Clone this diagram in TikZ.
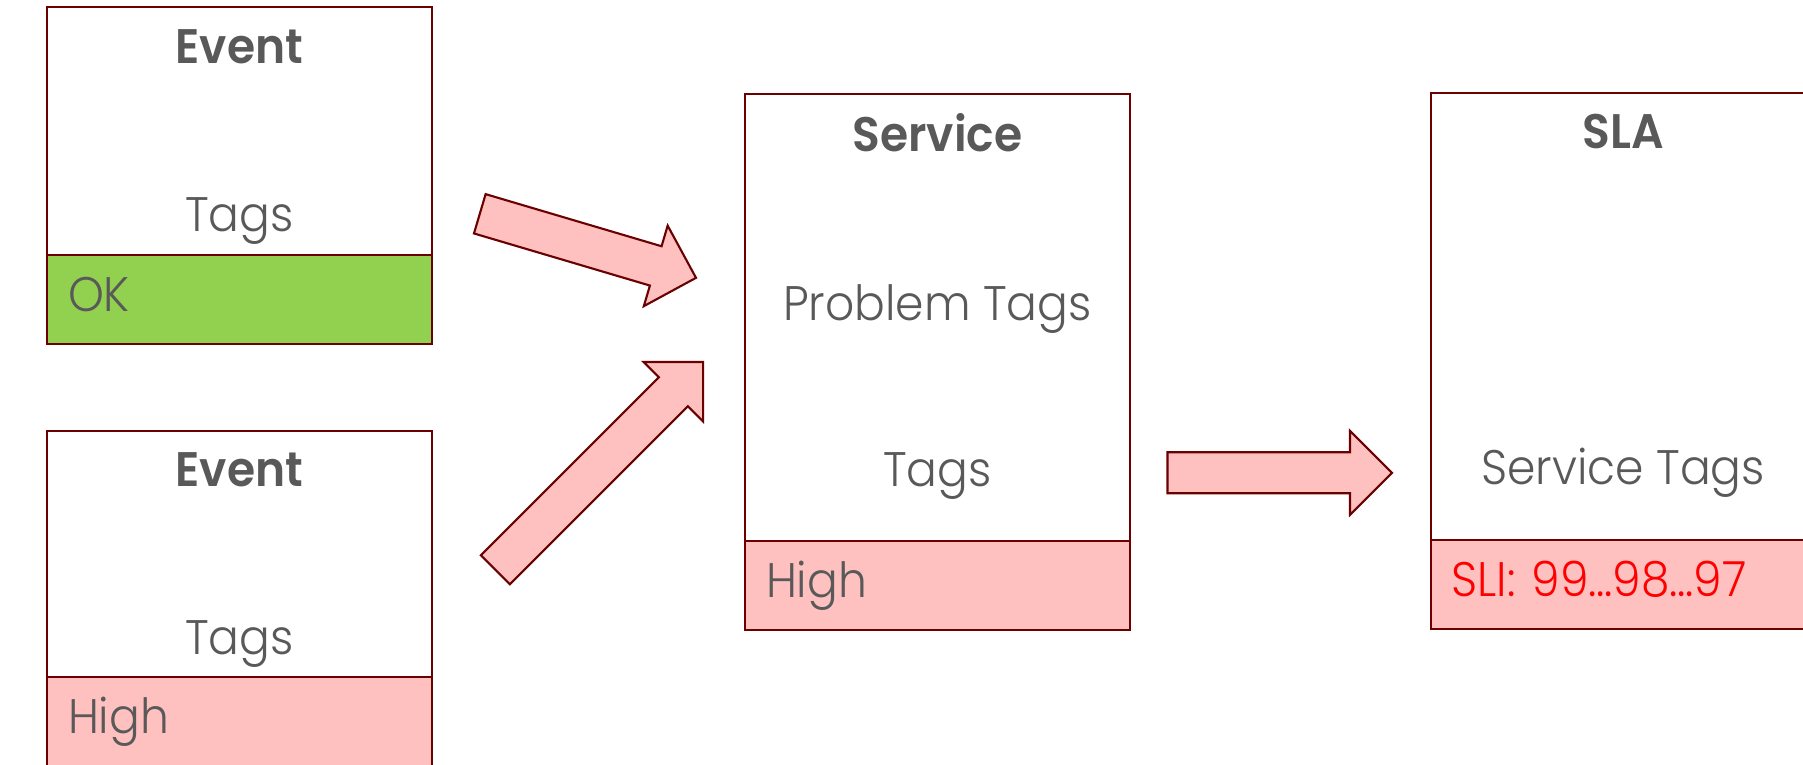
\documentclass[tikz,border=0pt]{standalone}
\usepackage{fontspec}
\setmainfont{Poppins}[UprightFont=* Light, BoldFont=* SemiBold, FakeStretch=0.94]
\usepackage{tikz}
\usetikzlibrary{positioning}
\usepackage{xcolor}

\definecolor{cardline}{HTML}{6B0000}
\definecolor{okgreen}{HTML}{92D050}
\definecolor{highpink}{HTML}{FFC0C0}
\definecolor{textgray}{HTML}{595959}
\definecolor{slired}{HTML}{FF0000}

\newcommand{\blockarrow}[3]{%
  \begin{scope}[shift={#1}, rotate=#2]
    \draw[flowarrow] (0,20.5) -- ({#3-42},20.5) -- ({#3-42},42) -- (#3,0)
      -- ({#3-42},-42) -- ({#3-42},-20.5) -- (0,-20.5) -- cycle;
  \end{scope}}

\begin{document}
\begin{tikzpicture}[
  x=0.1mm, y=-0.1mm,
  card/.style={rectangle, draw=cardline, fill=white, line width=0.6pt, minimum width=38.5mm, inner sep=0pt, outer sep=0pt, anchor=north west},
  bar/.style={rectangle, draw=cardline, line width=0.6pt, minimum height=8.9mm, inner xsep=2.1mm, inner ysep=0pt, outer sep=0pt, text width=34.3mm, align=left, text height=3.4mm, text depth=0.9mm, font=\fontsize{13.8}{16}\selectfont, text=textgray},
  title/.style={anchor=base, inner sep=0pt, font=\bfseries\fontsize{13.8}{16}\selectfont, text=textgray},
  tag/.style={anchor=base, inner sep=0pt, font=\fontsize{13.8}{16}\selectfont, text=textgray},
  flowarrow/.style={draw=cardline, fill=highpink, line width=0.6pt, line join=miter}
]
  \clip (0,0) rectangle (1803,765);

  % event cards
  \node[card, minimum height=24.8mm] (ev1) at (47,7) {};
  \node[bar, fill=okgreen, below=0pt of ev1] (ev1s) {OK};
  \node[title] (ev1t) at ([yshift=-5.7mm]ev1.north) {Event};
  \node[tag] (ev1g) at ([yshift=-22.5mm]ev1.north) {Tags};

  \node[card, minimum height=24.6mm] (ev2) at (47,431) {};
  \node[bar, fill=highpink, below=0pt of ev2] (ev2s) {High};
  \node[title] (ev2t) at ([yshift=-5.6mm]ev2.north) {Event};
  \node[tag] (ev2g) at ([yshift=-22.35mm]ev2.north) {Tags};

  % service card
  \node[card, minimum height=44.7mm] (svc) at (745,94) {};
  \node[bar, fill=highpink, below=0pt of svc] (svcs) {High};
  \node[title] (svct) at ([yshift=-5.8mm]svc.north) {Service};
  \node[tag] (svcp) at ([yshift=-22.7mm]svc.north) {Problem Tags};
  \node[tag] (svcg) at ([yshift=-39.3mm]svc.north) {Tags};

  % sla card
  \node[card, minimum height=44.7mm] (sla) at (1430.6,93) {};
  \node[bar, fill=highpink, text=slired, below=0pt of sla] (slas) {SLI: 99…98…97};
  \node[title] (slat) at ([yshift=-5.6mm]sla.north) {SLA};
  \node[tag] (slag) at ([yshift=-39.2mm]sla.north) {Service Tags};

  % flow arrows
  \blockarrow{(479.8,213.8)}{-16.5}{225.5}
  \blockarrow{(495.3,569.8)}{45}{293.8}
  \blockarrow{(1167.5,472.8)}{0}{224.5}
\end{tikzpicture}
\end{document}
